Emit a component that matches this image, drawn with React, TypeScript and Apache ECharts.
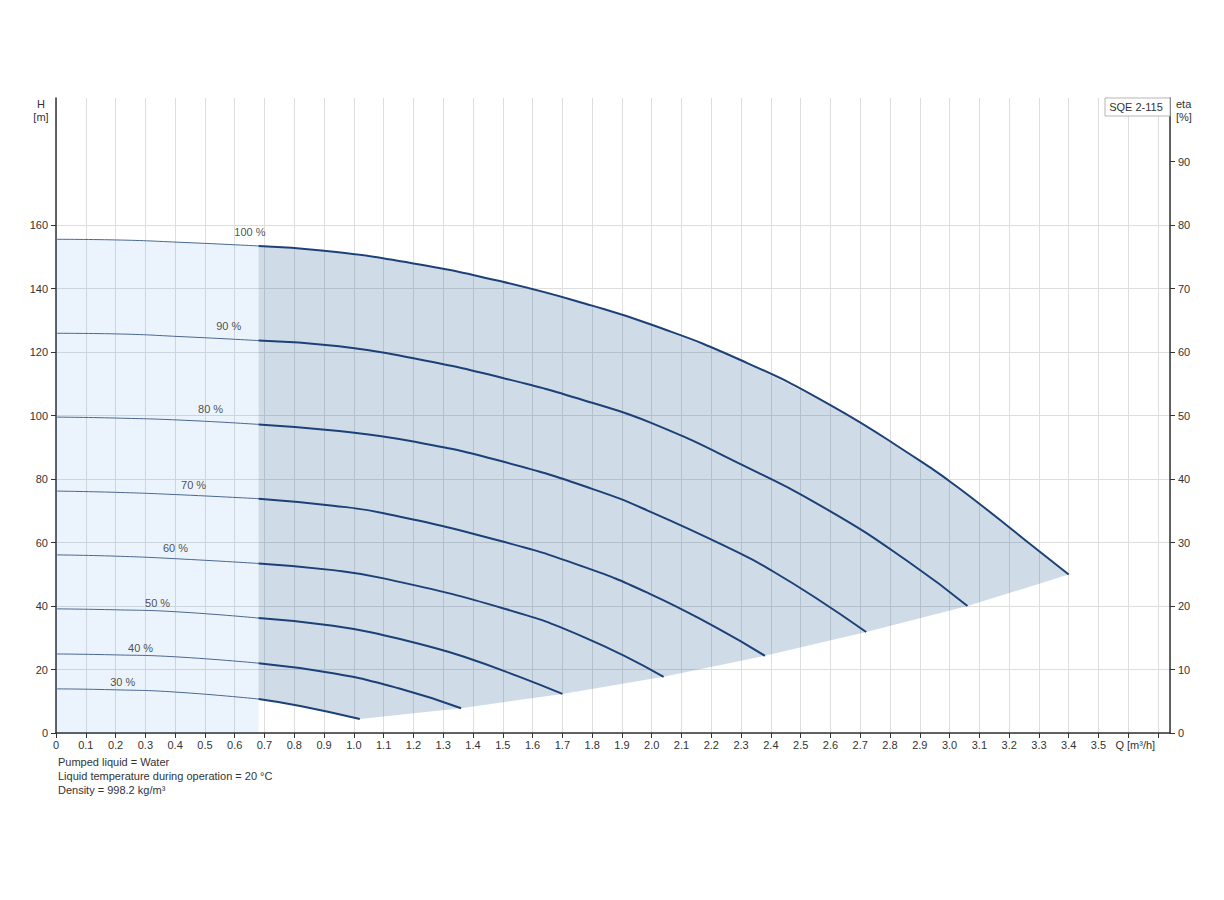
import React, { useEffect, useRef } from 'react';
import * as echarts from 'echarts';

// ---- data ----
const speedLabels = ['100 %', '90 %', '80 %', '70 %', '60 %', '50 %', '40 %', '30 %'];

const q100 = [0, 0.2, 0.43, 0.68, 0.9, 1.2, 1.5, 1.8, 2.0, 2.3, 2.6, 2.9, 3.0, 3.1, 3.2, 3.3, 3.4];
const h100 = [155.5, 155.3, 154.5, 153.4, 151.9, 147.9, 142.1, 134.6, 128.6, 117.4, 103.3, 85.8, 79.3, 72.2, 64.8, 57.3, 49.9];

const q90 = [0, 0.2, 0.43, 0.68, 0.95, 1.2, 1.5, 1.8, 2.0, 2.3, 2.6, 2.87, 3.06];
const h90 = [125.9, 125.7, 124.8, 123.6, 121.8, 118.0, 111.8, 104.0, 97.6, 84.6, 69.8, 53.4, 40.0];

const q80 = [0, 0.2, 0.43, 0.68, 0.95, 1.2, 1.5, 1.8, 2.0, 2.3, 2.4, 2.55, 2.72];
const h80 = [99.5, 99.2, 98.5, 97.2, 95.1, 91.8, 85.5, 76.9, 69.5, 56.4, 51.3, 42.6, 31.8];

const q70 = [0, 0.2, 0.4, 0.68, 0.93, 1.1, 1.5, 1.77, 1.99, 2.22, 2.38];
const h70 = [76.2, 75.8, 75.1, 73.8, 71.6, 69.2, 60.3, 52.4, 44.0, 33.0, 24.3];

const q60 = [0, 0.2, 0.4, 0.68, 0.93, 1.1, 1.5, 1.77, 2.04];
const h60 = [56.1, 55.7, 54.9, 53.4, 51.3, 48.7, 39.3, 30.3, 17.7];

const q50 = [0, 0.2, 0.4, 0.68, 0.93, 1.1, 1.25, 1.37, 1.55, 1.7];
const h50 = [39.1, 38.8, 38.2, 36.2, 33.8, 30.8, 27.3, 24.0, 17.9, 12.3];

const q40 = [0, 0.2, 0.4, 0.68, 0.93, 1.15, 1.36];
const h40 = [24.9, 24.6, 24.0, 22.0, 18.8, 14.1, 7.8];

const q30 = [0, 0.2, 0.4, 0.68, 0.82, 1.02];
const h30 = [13.9, 13.6, 12.9, 10.7, 8.5, 4.4];

const splitQ = 0.68;

const labelQ = [0.651, 0.58, 0.519, 0.462, 0.401, 0.341, 0.284, 0.224];
const labelH = [157.8, 128.1, 101.9, 78.2, 58.4, 41.0, 26.9, 16.2];

const hTicks = [0, 20, 40, 60, 80, 100, 120, 140, 160];
const etaTicks = [0, 10, 20, 30, 40, 50, 60, 70, 80, 90];

const footerLines = [
  'Pumped liquid = Water',
  'Liquid temperature during operation = 20 °C',
  'Density = 998.2 kg/m³',
];

const FONT = 'Liberation Sans, Arial, Helvetica, sans-serif';

const pairs = (q: number[], h: number[]) => q.map((x, i) => [x, h[i]]);

export default function App() {
  const ref = useRef<HTMLDivElement>(null);

  useEffect(() => {
    document.body.style.margin = '0';
    if (!ref.current) return;
    const chart = echarts.init(ref.current, null, { renderer: 'svg' });

    const curves = [
      pairs(q100, h100),
      pairs(q90, h90),
      pairs(q80, h80),
      pairs(q70, h70),
      pairs(q60, h60),
      pairs(q50, h50),
      pairs(q40, h40),
      pairs(q30, h30),
    ];
    const thin = curves.map((c) => c.filter((p) => p[0] <= splitQ));
    const thick = curves.map((c) => c.filter((p) => p[0] >= splitQ));

    // light region: under 100% curve up to splitQ
    const lightPoly = [[0, 0], ...thin[0], [splitQ, 0]];
    // dark region: between 100% curve and lower envelope through curve end points
    const endPts = curves.slice(1, 7).map((c) => c[c.length - 1]);
    const darkPoly = [...thick[0], ...endPts, ...thick[7].slice().reverse()];

    const polySeries = (poly: number[][], fill: string) => ({
      type: 'custom',
      coordinateSystem: 'cartesian2d',
      xAxisIndex: 0,
      yAxisIndex: 0,
      silent: true,
      z: 1,
      data: [[0, 0]],
      renderItem: (_params: any, api: any) => ({
        type: 'polygon',
        shape: { points: poly.map((p) => api.coord(p)) },
        style: { fill },
      }),
    });

    const lineSeries: any[] = [];
    curves.forEach((_c, i) => {
      lineSeries.push({
        type: 'line',
        data: thin[i],
        showSymbol: false,
        smooth: 0.5,
        silent: true,
        z: 3,
        lineStyle: { color: '#4a6790', width: 1 },
      });
      lineSeries.push({
        type: 'line',
        data: thick[i],
        showSymbol: false,
        smooth: 0.5,
        silent: true,
        z: 4,
        lineStyle: { color: '#1b4176', width: 2 },
      });
    });

    const txt = (text: string, x: number, y: number, align: string = 'center') => ({
      type: 'text',
      x,
      y,
      silent: true,
      style: {
        text,
        fill: '#333',
        fontSize: 11,
        fontFamily: FONT,
        align,
        textAlign: align,
        verticalAlign: 'middle',
        textVerticalAlign: 'middle',
      },
    });

    const option: any = {
      animation: false,
      textStyle: { fontFamily: FONT },
      grid: { left: 56, right: 54, top: 98, bottom: 167, containLabel: false },
      xAxis: {
        type: 'value',
        min: 0,
        max: 3.74,
        interval: 0.1,
        axisLine: { show: true, onZero: false, lineStyle: { color: '#333', width: 1.5 } },
        axisTick: { show: true, inside: false, length: 5, lineStyle: { color: '#333' } },
        axisLabel: {
          show: true,
          margin: 6,
          fontSize: 11,
          color: '#333',
          fontFamily: FONT,
          showMaxLabel: false,
          formatter: (v: number) => {
            const k = Math.round(v * 100);
            if (k === 0) return '0';
            if (k === 360) return '{q|Q [m³/h]}';
            if (k > 355) return '';
            return v.toFixed(1);
          },
          rich: {
            q: { padding: [0, 0, 0, 14], fontSize: 11, color: '#333', fontFamily: FONT },
          },
        },
        splitLine: { show: true, lineStyle: { color: '#dedede', width: 1 } },
      },
      yAxis: [
        {
          type: 'value',
          min: 0,
          max: 200,
          interval: 20,
          position: 'left',
          axisLine: { show: true, onZero: false, lineStyle: { color: '#333', width: 1.5 } },
          axisTick: { show: true, inside: false, length: 5, customValues: hTicks, lineStyle: { color: '#333' } },
          axisLabel: {
            show: true,
            margin: 8,
            fontSize: 11,
            color: '#333',
            fontFamily: FONT,
            customValues: hTicks,
            formatter: (v: number) => (v <= 160 ? String(v) : ''),
          },
          splitLine: { show: true, lineStyle: { color: '#dedede', width: 1 } },
        },
        {
          type: 'value',
          min: 0,
          max: 100,
          interval: 10,
          position: 'right',
          axisLine: { show: true, onZero: false, lineStyle: { color: '#333', width: 1.5 } },
          axisTick: { show: true, inside: false, length: 5, customValues: etaTicks, lineStyle: { color: '#333' } },
          axisLabel: {
            show: true,
            margin: 8,
            fontSize: 11,
            color: '#333',
            fontFamily: FONT,
            customValues: etaTicks,
            formatter: (v: number) => (v <= 90 ? String(v) : ''),
          },
          splitLine: { show: false },
        },
      ],
      series: [
        polySeries(lightPoly, 'rgba(5,117,230,0.08)'),
        polySeries(darkPoly, 'rgba(15,80,140,0.2)'),
        ...lineSeries,
        {
          type: 'scatter',
          symbolSize: 0,
          silent: true,
          z: 5,
          data: labelQ.map((q, i) => ({ value: [q, labelH[i]], name: speedLabels[i] })),
          label: {
            show: true,
            position: 'inside',
            formatter: '{b}',
            color: '#222',
            fontSize: 11,
            fontFamily: FONT,
          },
        },
      ],
      graphic: [
        txt('H', 41, 104),
        txt('[m]', 41, 117),
        txt('eta', 1176, 104, 'left'),
        txt('[%]', 1176, 117, 'left'),
        {
          type: 'rect',
          silent: true,
          z: 10,
          shape: { x: 1105, y: 98, width: 65, height: 18 },
          style: { fill: '#ffffff', stroke: '#b5b5b5', lineWidth: 1 },
        },
        { ...txt('SQE 2-115', 1136, 107), z: 11 },
        ...footerLines.map((t, i) => txt(t, 58, 762 + i * 14, 'left')),
      ],
    };

    chart.setOption(option);
    return () => chart.dispose();
  }, []);

  return <div ref={ref} style={{ width: 1224, height: 900 }} />;
}
